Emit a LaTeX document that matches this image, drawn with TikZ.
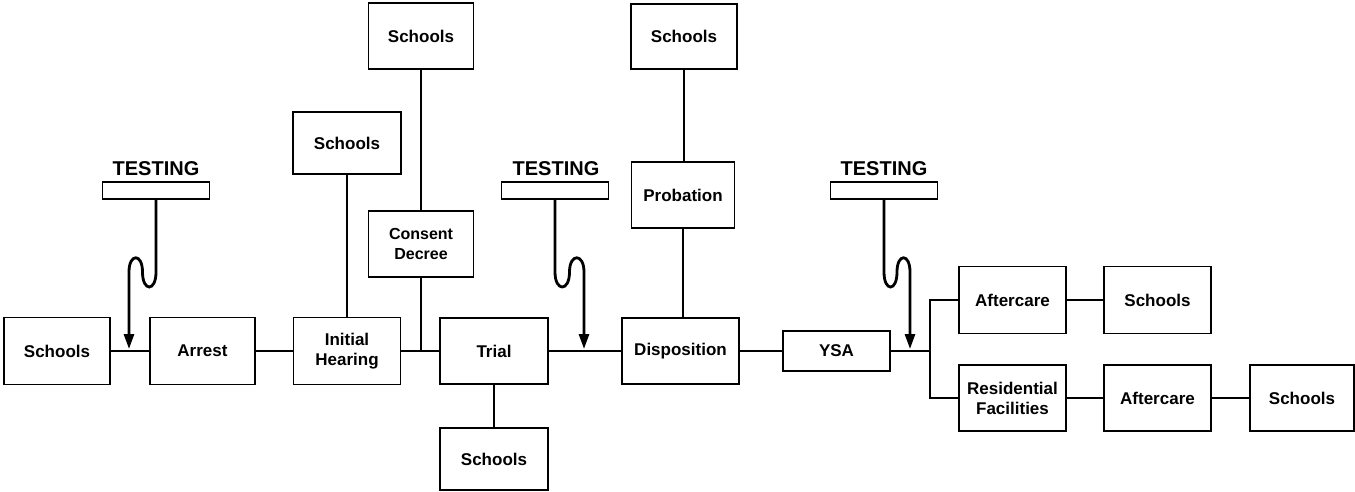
\documentclass[tikz,border=0pt]{standalone}
\usepackage{fontspec}
\setmainfont{Liberation Sans}
\usetikzlibrary{arrows.meta}
\begin{document}
\begin{tikzpicture}[x=1pt,y=-1pt,
  box/.style={draw, line width=1.5pt, rectangle, inner sep=0pt, align=center,
    font=\fontsize{17}{20}\selectfont\bfseries},
  smallbox/.style={box, font=\fontsize{16}{20}\selectfont\bfseries},
  sz/.style 2 args={minimum width=#1pt, minimum height=#2pt},
  tbox/.style={draw, line width=1.5pt, rectangle, inner sep=0pt, minimum width=107pt, minimum height=17pt},
  tlabel/.style={inner sep=0pt, font=\fontsize{20}{24}\selectfont\bfseries},
  conn/.style={line width=1.6pt},
  testarrow/.style={line width=2.8pt, -{Triangle[length=15pt,width=10pt]}}
]
\useasboundingbox (0,0) rectangle (1355,491);

% main row
\node[box, sz={106}{67}] (schoolsL) at (57,351) {Schools};
\node[box, sz={105}{67}] (arrest) at (202.5,351) {Arrest};
\node[box, sz={107}{67}] (hearing) at (347,351) {Initial\\Hearing};
\node[box, sz={108}{66}] (trial) at (494,351) {Trial};
\node[box, sz={117}{66}] (disp) at (680.5,351) {Disposition};
\node[box, sz={107}{40}] (ysa) at (836.5,351) {YSA};

% upper / lower branches
\node[smallbox, sz={105}{66}] (consent) at (421,244) {Consent\\Decree};
\node[box, sz={108}{62}] (schoolsIH) at (347,143) {Schools};
\node[box, sz={105}{66}] (schoolsT1) at (421,36) {Schools};
\node[box, sz={106}{65}] (schoolsT2) at (684,36.5) {Schools};
\node[box, sz={103}{66}] (probation) at (683,195) {Probation};
\node[box, sz={108}{62}] (schoolsB) at (494,459) {Schools};

% right section
\node[box, sz={107}{67}] (after1) at (1012.5,300) {Aftercare};
\node[box, sz={107}{67}] (schoolsR1) at (1157.5,300) {Schools};
\node[box, sz={107}{66}] (resid) at (1012.5,398) {Residential\\Facilities};
\node[box, sz={107}{66}] (after2) at (1157.5,398) {Aftercare};
\node[box, sz={104}{66}] (schoolsR2) at (1302,398) {Schools};

% testing boxes
\node[tbox] (tb1) at (156,190.5) {};
\node[tbox] (tb2) at (555,190.5) {};
\node[tbox] (tb3) at (884,190.5) {};
\node[tlabel] (tl1) at (156,168.5) {TESTING};
\node[tlabel] (tl2) at (556,168.5) {TESTING};
\node[tlabel] (tl3) at (884,168.5) {TESTING};

% connectors on main row
\draw[conn] (schoolsL.east) -- (arrest.west);
\draw[conn] (arrest.east) -- (hearing.west);
\draw[conn] (hearing.east) -- (trial.west);
\draw[conn] (trial.east) -- (disp.west);
\draw[conn] (disp.east) -- (ysa.west);
\coordinate (j) at (930,351);
\draw[conn] (ysa.east) -- (j);
\draw[conn] (after1.west) -| (j);
\draw[conn] (resid.west) -| (j);
\draw[conn] (after1.east) -- (schoolsR1.west);
\draw[conn] (resid.east) -- (after2.west);
\draw[conn] (after2.east) -- (schoolsR2.west);

% vertical connectors
\draw[conn] (schoolsIH.south) -- (hearing.north);
\draw[conn] (schoolsT1.south) -- (consent.north);
\draw[conn] (consent.south) -- (consent.south |- hearing.east);
\draw[conn] (trial.south) -- (schoolsB.north);
\draw[conn] (schoolsT2.south) -- (schoolsT2.south |- probation.north);
\draw[conn] (probation.south) -- (probation.south |- disp.north);

% testing arrows
\coordinate (tip1) at (129,349);
\coordinate (tip2) at (584,349);
\coordinate (tip3) at (910,349);
\draw[testarrow] (tb1.south) -- (156,272)
  .. controls (156,292) and (142.5,292) .. (142.5,272)
  .. controls (142.5,253) and (129,253) .. (129,272) -- (tip1);
\draw[testarrow] (tb2.south) -- (555,272)
  .. controls (555,292) and (569.5,292) .. (569.5,272)
  .. controls (569.5,253) and (584,253) .. (584,272) -- (tip2);
\draw[testarrow] (tb3.south) -- (884,272)
  .. controls (884,292) and (897,292) .. (897,272)
  .. controls (897,253) and (910,253) .. (910,272) -- (tip3);
\end{tikzpicture}
\end{document}
